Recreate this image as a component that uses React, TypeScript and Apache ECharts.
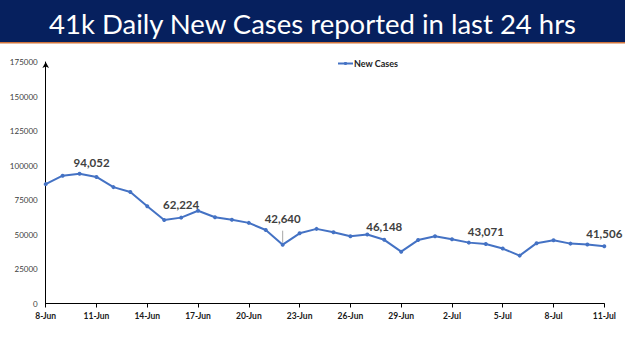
import React, { useEffect, useRef } from "react";
import * as echarts from "echarts";

const titleText = "41k Daily New Cases reported in last 24 hrs";
const seriesName = "New Cases";

const dates = [
  "8-Jun", "9-Jun", "10-Jun", "11-Jun", "12-Jun", "13-Jun", "14-Jun", "15-Jun", "16-Jun",
  "17-Jun", "18-Jun", "19-Jun", "20-Jun", "21-Jun", "22-Jun", "23-Jun", "24-Jun", "25-Jun",
  "26-Jun", "27-Jun", "28-Jun", "29-Jun", "30-Jun", "1-Jul", "2-Jul", "3-Jul", "4-Jul",
  "5-Jul", "6-Jul", "7-Jul", "8-Jul", "9-Jul", "10-Jul", "11-Jul",
];

const newCases = [
  86498, 92596, 94052, 91702, 84332, 80834, 70421, 60471, 62224,
  67208, 62480, 60753, 58419, 53256, 42640, 50848, 54069, 51667,
  48698, 50040, 46148, 37566, 45951, 48786, 46617, 44111, 43071,
  39796, 34703, 43733, 45892, 43393, 42766, 41506,
];

// dates whose values are annotated on the chart
const labelledDates = ["10-Jun", "16-Jun", "22-Jun", "28-Jun", "4-Jul", "11-Jul"];

const yTicks = { min: 0, max: 175000, interval: 25000 };

export default function App() {
  const ref = useRef<HTMLDivElement>(null);

  useEffect(() => {
    if (!ref.current) return;
    const chart = echarts.init(ref.current, undefined, { renderer: "svg" });
    const fmt = (v: number) => v.toLocaleString("en-US");

    const data = newCases.map((v, i) => {
      const d = dates[i];
      if (!labelledDates.includes(d)) return v;
      const item: any = {
        value: v,
        label: {
          show: true,
          formatter: () => fmt(v),
        },
      };
      if (d === "10-Jun") item.label.offset = [12, 2];
      if (d === "22-Jun") {
        item.label.distance = 18;
        item.labelLine = { show: true, lineStyle: { color: "#a6a6a6", width: 1 } };
      }
      return item;
    });

    chart.setOption({
      animation: false,
      backgroundColor: "#ffffff",
      title: {
        text: titleText,
        left: "center",
        top: 4,
        textStyle: {
          color: "#ffffff",
          fontFamily: "Lato",
          fontWeight: "normal",
          fontSize: 27.5,
        },
      },
      graphic: [
        {
          type: "rect",
          z: -1,
          shape: { x: 0, y: 0, width: 625, height: 42 },
          style: { fill: "#06205e" },
        },
        {
          type: "rect",
          z: -1,
          shape: { x: 0, y: 42, width: 625, height: 1.5 },
          style: { fill: "#d0733a" },
        },
      ],
      legend: {
        top: 54,
        left: 332,
        itemWidth: 15,
        itemHeight: 4,
        itemGap: 2,
        textStyle: {
          fontFamily: "Lato",
          fontSize: 9,
          fontWeight: "bold",
          color: "#222222",
          padding: [0, 0, 0, -4],
        },
        data: [seriesName],
      },
      grid: {
        left: 45.7,
        right: 20.7,
        top: 62,
        bottom: 47.5,
        containLabel: false,
      },
      xAxis: {
        type: "category",
        data: dates,
        boundaryGap: false,
        axisLine: { show: true, lineStyle: { color: "#000000", width: 1 } },
        axisTick: {
          show: true,
          interval: 2,
          length: 4,
          lineStyle: { color: "#000000" },
        },
        axisLabel: {
          interval: 2,
          fontFamily: "Lato",
          fontSize: 8.5,
          fontWeight: "bold",
          color: "#1a1a1a",
          margin: 8,
        },
        splitLine: { show: false },
      },
      yAxis: {
        type: "value",
        min: yTicks.min,
        max: yTicks.max,
        interval: yTicks.interval,
        axisLine: {
          show: true,
          symbol: ["none", "arrow"],
          symbolSize: [5, 6],
          lineStyle: { color: "#000000", width: 1 },
        },
        axisTick: { show: false },
        splitLine: { show: false },
        axisLabel: {
          fontFamily: "Lato",
          fontSize: 8,
          color: "#404040",
          margin: 8,
          formatter: (v: number) => String(v),
        },
      },
      series: [
        {
          name: seriesName,
          type: "line",
          data,
          symbol: "circle",
          symbolSize: 4,
          lineStyle: { color: "#4472c4", width: 2 },
          itemStyle: { color: "#4472c4" },
          label: {
            show: false,
            position: "top",
            distance: 5,
            fontFamily: "Lato",
            fontSize: 11.5,
            fontWeight: "bold",
            color: "#404040",
          },
        },
      ],
    });

    return () => chart.dispose();
  }, []);

  return (
    <div
      ref={ref}
      style={{ position: "fixed", left: 0, top: 0, width: 625, height: 351 }}
    />
  );
}
